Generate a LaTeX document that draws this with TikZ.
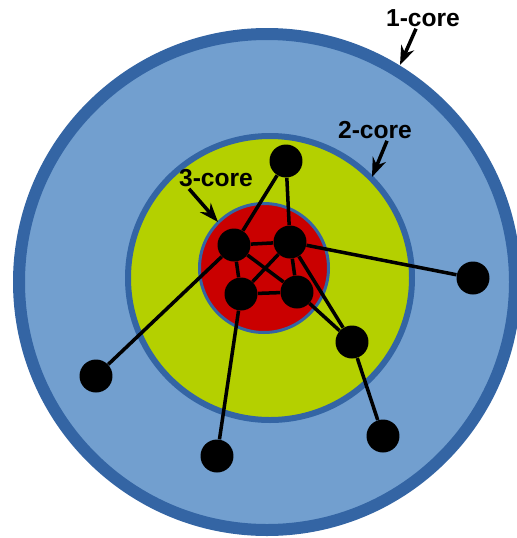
\documentclass[tikz,border=0pt]{standalone}
\usepackage{fontspec}
\setmainfont{Liberation Sans}
\usetikzlibrary{arrows.meta}
\definecolor{ringblue}{RGB}{52,101,164}
\definecolor{skyblue}{RGB}{114,159,207}
\definecolor{limegreen}{RGB}{180,208,0}
\definecolor{corered}{RGB}{202,0,0}
\tikzset{
  vertex/.style={circle, fill=black, minimum size=0.66cm, inner sep=0pt},
  link/.style={line width=2pt},
  corelabel/.style={font=\bfseries\fontsize{14}{16}\selectfont, inner sep=1pt},
  pointer/.style={->, line width=2pt}
}
\begin{document}
\begin{tikzpicture}[>={Stealth[length=0.38cm, width=0.28cm]}, x=0.02cm, y=-0.02cm]
\useasboundingbox (0,0) rectangle (517,538);
% shells
\draw[ringblue, fill=skyblue, line width=0.24cm] (267,282) circle (248);
\draw[ringblue, fill=limegreen, line width=0.12cm] (270,278) circle (142);
\draw[ringblue, fill=corered, line width=0.06cm] (264,268) circle (64.5);
% vertices
\node[vertex] (v1) at (286,161) {};
\node[vertex] (v2) at (234,245) {};
\node[vertex] (v3) at (290,242) {};
\node[vertex] (v4) at (241,294) {};
\node[vertex] (v5) at (297,292) {};
\node[vertex] (v6) at (352,342) {};
\node[vertex] (v7) at (473,278) {};
\node[vertex] (v8) at (96,376) {};
\node[vertex] (v9) at (217,456) {};
\node[vertex] (v10) at (383,436) {};
% edges
\draw[link] (v1) -- (v2);
\draw[link] (v1) -- (v3);
\draw[link] (v2) -- (v3);
\draw[link] (v2) -- (v4);
\draw[link] (v2) -- (v5);
\draw[link] (v3) -- (v4);
\draw[link] (v3) -- (v5);
\draw[link] (v4) -- (v5);
\draw[link] (v2) -- (v8);
\draw[link] (v3) -- (v7);
\draw[link] (v4) -- (v9);
\draw[link] (v5) -- (v6);
\draw[link] (v3) -- (v6);
\draw[link] (v6) -- (v10);
% labels
\node[corelabel] (l1) at (423,18) {1-core};
\node[corelabel] (l2) at (375,130) {2-core};
\node[corelabel] (l3) at (216,178) {3-core};
\coordinate (p1) at (400,65);
\coordinate (p2) at (372,177);
\coordinate (p3) at (218,222);
\draw[pointer] ([xshift=-0.14cm]l1.south) -- (p1);
\draw[pointer] ([xshift=0.24cm]l2.south) -- (p2);
\draw[pointer] ([xshift=-0.54cm]l3.south) -- (p3);
\end{tikzpicture}
\end{document}
